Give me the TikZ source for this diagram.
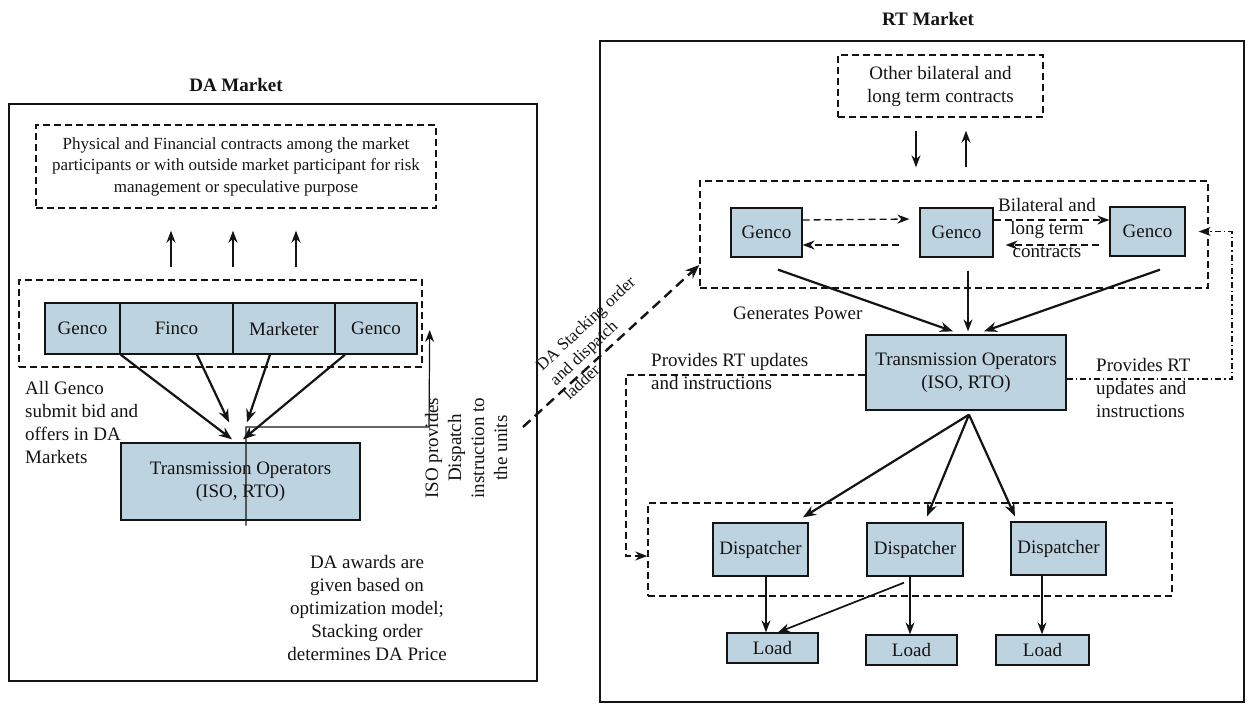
\documentclass[tikz,border=0pt]{standalone}
\usepackage{fontspec}
\setmainfont{Liberation Serif}
\usetikzlibrary{arrows.meta,calc}
\definecolor{boxfill}{RGB}{190,211,224}
\definecolor{ink}{RGB}{20,20,20}
\begin{document}
\begin{tikzpicture}[x=1pt,y=-1pt,
  font=\fontsize{19}{23}\selectfont, text=ink,
  frame/.style={draw=ink, line width=2.8pt, inner sep=0pt},
  solidbox/.style={draw=ink, line width=1.3pt, fill=boxfill, inner sep=0pt, align=center},
  dashbox/.style={draw=ink, line width=1.4pt, dash pattern=on 7pt off 4pt, inner sep=0pt, align=center},
  lbl/.style={inner sep=0pt},
  title/.style={inner sep=0pt, font=\fontsize{19}{23}\selectfont\bfseries},
  arr/.style={draw=ink, line width=2.2pt, -{Stealth[length=13pt,width=10pt]}},
  marr/.style={draw=ink, line width=1.7pt, -{Stealth[length=12pt,width=9pt]}},
  tarr/.style={draw=ink, line width=1.2pt, -{Stealth[length=12pt,width=9pt]}},
  darr/.style={draw=ink, line width=1.3pt, dash pattern=on 7pt off 4pt, -{Stealth[length=12pt,width=9pt]}},
  ddarr/.style={draw=ink, line width=1.2pt, dash pattern=on 6pt off 3pt on 1.5pt off 3pt, -{Stealth[length=12pt,width=9pt]}},
  bigdarr/.style={draw=ink, line width=2.4pt, dash pattern=on 10pt off 6pt, -{Stealth[length=14pt,width=11pt]}}
]
\useasboundingbox[fill=white] (0,0) rectangle (1248,705);

% ---------------- DA Market ----------------
\node[title] (datitle) at (236,85) {DA Market};
\node[frame, minimum width=528, minimum height=577] (DA) at (273,392.5) {};

\node[dashbox, minimum width=400, minimum height=83, font=\fontsize{17}{21.5}\selectfont] (contract) at (236,166.5)
  {Physical and Financial contracts among the market\\participants or with outside market participant for risk\\management or speculative purpose};

\node[dashbox, minimum width=403, minimum height=87] (row) at (220.5,323.5) {};
\node[solidbox, minimum width=75, minimum height=51] (genco1) at (82.5,328.5) {Genco};
\node[solidbox, minimum width=113, minimum height=51] (finco) at (176.5,328.5) {Finco};
\node[solidbox, minimum width=102, minimum height=51] (marketer) at (284,328.5) {Marketer};
\node[solidbox, minimum width=82, minimum height=51] (genco2) at (376,328.5) {Genco};

\node[solidbox, minimum width=239, minimum height=77] (TOL) at (240.5,481.5) {Transmission Operators\\(ISO, RTO)};

\draw[marr] ([xshift=-49.5,yshift=12]row.north) -- ([xshift=-65,yshift=-22]contract.south);
\draw[marr] ([xshift=12.5,yshift=12]row.north) -- ([xshift=-3,yshift=-22]contract.south);
\draw[marr] ([xshift=75.5,yshift=12]row.north) -- ([xshift=60,yshift=-22]contract.south);

\draw[arr] (genco1.south east) -- ([xshift=-8.5,yshift=3]TOL.north);
\draw[arr] ([xshift=20.5]finco.south) -- ([xshift=-11.5,yshift=20]TOL.north);
\draw[arr] ([xshift=-14]marketer.south) -- ([xshift=6.5,yshift=20]TOL.north);
\draw[arr] ([xshift=-31]genco2.south) -- ([xshift=2.5,yshift=3]TOL.north);

\coordinate (isoC) at (429,427);
\draw[tarr] ([xshift=5.5,yshift=-5]TOL.south) |- (isoC) -- ([xshift=7,yshift=-6.5]row.east);

\node[lbl, anchor=west, align=left] (allg) at (25,422) {All Genco\\submit bid and\\offers in DA\\Markets};
\node[lbl, rotate=90, align=center] (isotxt) at (466,448) {ISO provides\\Dispatch\\instruction to\\the units};
\node[lbl, align=center] (awards) at (367,607.5) {DA awards are\\given based on\\optimization model;\\Stacking order\\determines DA Price};

% ---------------- RT Market ----------------
\node[title] (rttitle) at (928,19) {RT Market};
\node[frame, minimum width=644, minimum height=661] (RT) at (922,371.5) {};

\node[dashbox, minimum width=205, minimum height=62] (other) at (940.5,86) {Other bilateral and\\long term contracts};
\node[dashbox, minimum width=508, minimum height=107] (rtrow) at (954,234.5) {};
\node[solidbox, minimum width=71, minimum height=49] (GL) at (766.5,232.5) {Genco};
\node[solidbox, minimum width=73, minimum height=49] (GM) at (956.5,232.5) {Genco};
\node[solidbox, minimum width=75, minimum height=49] (GR) at (1147.5,231.5) {Genco};

\node[solidbox, minimum width=200, minimum height=75] (TOR) at (966,372.5) {Transmission Operators\\(ISO, RTO)};

\node[dashbox, minimum width=524, minimum height=93] (dispbox) at (910,549.5) {};
\node[solidbox, minimum width=95, minimum height=53] (D1) at (760.5,549.5) {Dispatcher};
\node[solidbox, minimum width=96, minimum height=53] (D2) at (915,549.5) {Dispatcher};
\node[solidbox, minimum width=95, minimum height=53] (D3) at (1058.5,548.5) {Dispatcher};

\node[solidbox, minimum width=91, minimum height=30] (L1) at (772.5,648) {Load};
\node[solidbox, minimum width=91, minimum height=30] (L2) at (911.5,650) {Load};
\node[solidbox, minimum width=93, minimum height=30] (L3) at (1042.5,650) {Load};

% other contracts <-> genco row
\draw[tarr] ([xshift=-24.5,yshift=-13]other.south) -- ([xshift=-38,yshift=13]rtrow.north);
\draw[tarr] ([xshift=12,yshift=13]rtrow.north) -- ([xshift=25.5,yshift=-13]other.south);

% bilateral dashed arrows
\draw[darr] ([yshift=12.5]GL.east) -- ([xshift=-10,yshift=13.5]GM.west);
\draw[darr] ([xshift=-20,yshift=-12.5]GM.west) -- ([yshift=-12.5]GL.east);
\draw[darr] ([yshift=12.5]GM.east) -- ([yshift=11.5]GR.west);
\draw[darr] ([xshift=-10,yshift=-13.5]GR.west) -- ([xshift=12,yshift=-12.5]GM.east);
\node[lbl, align=center] (bilat) at (1047,228) {Bilateral and\\long term\\contracts};

% gencos -> TO
\draw[arr] ([xshift=11.5,yshift=-12]GL.south) -- ([xshift=-13,yshift=3]TOR.north);
\draw[tarr] ([xshift=11.5,yshift=-13]GM.south) -- ([xshift=2,yshift=3]TOR.north);
\draw[arr] ([xshift=12.5,yshift=-13]GR.south) -- ([xshift=18,yshift=3]TOR.north);
\node[lbl, anchor=west] (genpow) at (733,313) {Generates Power};

% TO -> dispatchers
\draw[arr] ([xshift=3,yshift=-4]TOR.south) -- ([xshift=42.5,yshift=5]D1.north);
\draw[arr] ([xshift=3,yshift=-4]TOR.south) -- ([xshift=12,yshift=6]D2.north);
\draw[arr] ([xshift=3,yshift=-4]TOR.south) -- ([xshift=-43.5,yshift=5]D3.north);

% dispatchers -> loads
\draw[tarr] ([xshift=5.5]D1.south) -- ([xshift=-6.5]L1.north);
\draw[tarr] ([xshift=-5]D2.south) -- ([xshift=-1.5]L2.north);
\draw[tarr] ([xshift=-16.5]D3.south) -- ([xshift=-0.5]L3.north);
\draw[marr] ([xshift=-11,yshift=-6]D2.south) -- ([xshift=5.5]L1.north);

% RT updates
\coordinate (lc) at (626,375);
\draw[darr] ([yshift=-2.5]TOR.west) -- (lc) |- ([yshift=-6.5]dispbox.west);
\node[lbl, anchor=west, align=left] (rtupL) at (651,371) {Provides RT updates\\and instructions};

\coordinate (rc) at (1232,231.5);
\draw[ddarr] ([yshift=-6.5]TOR.east) -| (rc) -- ([xshift=13]GR.east);
\node[lbl, anchor=west, align=left] (rtupR) at (1096,388) {Provides RT\\updates and\\instructions};

% DA stacking order link
\coordinate (dsS) at (523,427);
\draw[bigdarr] (dsS) -- ([yshift=-30.5]rtrow.west);
\node[lbl, rotate=43, align=left, font=\fontsize{17}{20}\selectfont] (stack) at (599,338) {DA Stacking order\\and dispatch\\ladder};

\end{tikzpicture}
\end{document}
